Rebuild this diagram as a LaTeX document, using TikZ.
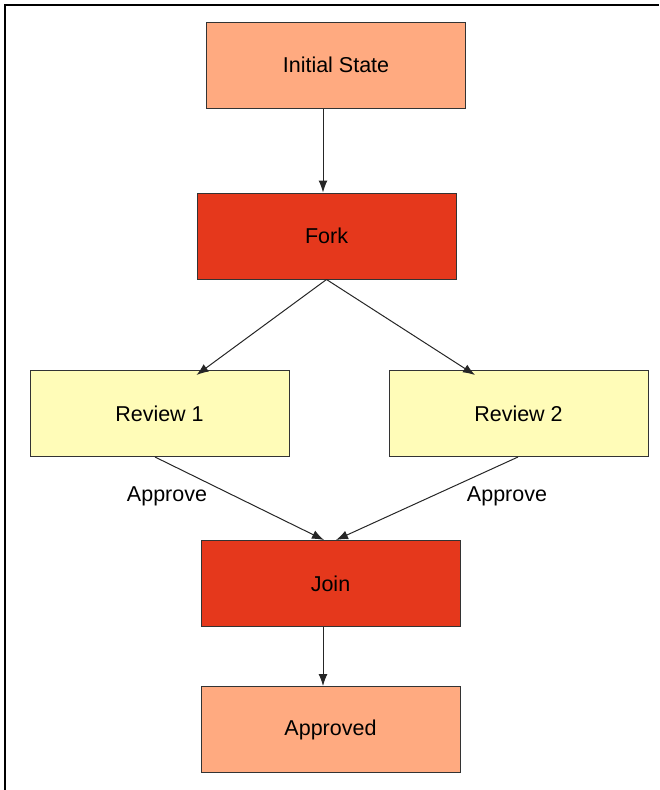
\documentclass[tikz,border=0pt]{standalone}
\usepackage{fontspec}
\setmainfont{Liberation Sans}
\usetikzlibrary{arrows.meta}
\definecolor{salmon}{HTML}{FFAA80}
\definecolor{redbox}{HTML}{E5381C}
\definecolor{yellowbox}{HTML}{FFFCB8}
\begin{document}
\begin{tikzpicture}[x=1pt,y=-1pt,
  box/.style={draw=black!80,line width=1pt,minimum width=259pt,minimum height=86pt,inner sep=0pt,font=\fontsize{21.5}{25}\selectfont},
  arr/.style={draw=black!85,line width=1pt,-{Latex[length=12pt,width=9pt]}},
  lbl/.style={font=\fontsize{21.5}{25}\selectfont}]
\useasboundingbox (0,0) rectangle (659,790);
\draw[line width=2.5pt] (4,5) -- (659,5);
\draw[line width=2.5pt] (5,4) -- (5,790);
\node[box,fill=salmon] (init) at (336,65) {Initial State};
\node[box,fill=redbox] (fork) at (326.5,236) {Fork};
\node[box,fill=yellowbox] (r1) at (159.5,413.5) {Review 1};
\node[box,fill=yellowbox] (r2) at (518.5,413.5) {Review 2};
\node[box,fill=redbox] (join) at (330.5,583.5) {Join};
\node[box,fill=salmon] (appr) at (330.5,729.5) {Approved};
\draw[arr] (init.south -| 323,0) -- (fork.north -| 323,0);
\draw[arr] (fork.south) -- ([xshift=-0.5pt,yshift=-5pt]r1.north -| 197,0);
\draw[arr] (fork.south) -- ([yshift=-5pt]r2.north -| 475,0);
\draw[arr] (r1.south -| 155,0) -- (join.north -| 324,0);
\draw[arr] (r2.south -| 518,0) -- (join.north -| 336,0);
\draw[arr] (join.south -| 323,0) -- (appr.north -| 323,0);
\node[lbl] (a1) at (167,496) {Approve};
\node[lbl] (a2) at (507,496) {Approve};
\end{tikzpicture}
\end{document}
